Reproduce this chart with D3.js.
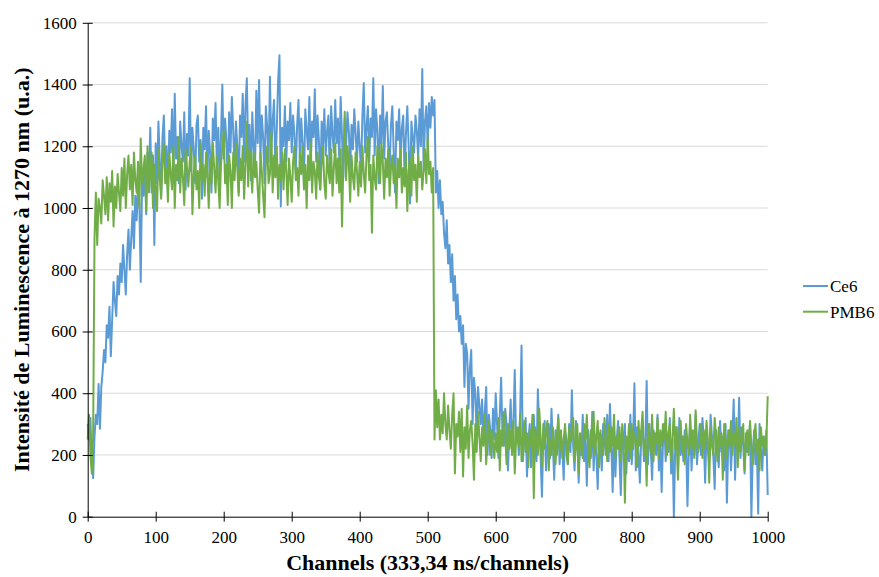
<!DOCTYPE html>
<html><head><meta charset="utf-8">
<script src="https://cdn.jsdelivr.net/npm/d3@7/dist/d3.min.js"></script>
<style>
html,body{margin:0;padding:0;background:#fff;}
svg{display:block;}
svg text{font-family:"Liberation Serif","Times New Roman",serif !important;fill:#000;}
</style></head>
<body>
<svg id="chart" width="879" height="577"></svg>
<script>
// Channel step between stored samples
const channelStep = 2;
const seriesNames = ["Ce6", "PMB6"];
const xTicks = [0,100,200,300,400,500,600,700,800,900,1000];
const yTicks = [0,200,400,600,800,1000,1200,1400,1600];

const ce6 = [
300,250,320,180,125,260,330,300,430,285,420,470,540,500,620,580,680,520,640,760,700,650,780,720,820,
760,880,800,720,850,930,800,900,990,870,1040,960,1080,1010,760,1100,1040,1150,980,1180,1100,1260,1050,1170,880,
1210,1080,1280,1150,1040,1230,1300,1120,1200,1050,1250,1180,1320,1100,1370,1160,1230,1080,1280,1200,1150,1310,1060,1240,1170,
1420,1120,1260,1190,1080,1270,1300,1150,1220,1030,1260,1190,1330,1100,1250,1180,1050,1290,1220,1340,1130,1260,1090,1230,1400,
1160,1290,1220,1080,1310,1180,1360,1250,1120,1280,1200,1050,1300,1230,1370,1150,1330,1420,1180,1270,1090,1310,1200,1120,1380,
1210,1415,1160,1300,1230,1080,1330,1260,1150,1425,1190,1280,1350,1120,1250,1410,1495,1005,1260,1200,1330,1150,1280,1220,1340,
1180,1300,1240,1120,1270,1350,1160,1290,1210,1080,1320,1250,1190,1360,1140,1280,1230,1385,1150,1300,1220,1060,1280,1200,1320,
1170,1250,1300,1100,1330,1240,1180,1350,1210,1290,1150,1360,1230,1100,1290,1200,1310,1250,1130,1270,1190,1320,1240,1150,1280,
1200,1120,1300,1405,1180,1260,1330,1150,1290,1230,1420,1170,1320,1250,1080,1300,1210,1395,1160,1280,1310,1200,1120,1270,1330,
1180,1050,1280,1220,1320,1150,1260,1300,1100,1240,1330,1200,1015,1280,1230,1180,1300,1250,1160,1320,1200,1450,1120,1280,1330,
1200,1340,1260,1360,1300,1350,1050,1120,1000,1090,980,1020,920,870,960,820,880,760,850,700,780,640,720,600,650,
560,620,420,560,530,350,480,540,300,450,400,260,420,360,300,380,250,340,420,200,330,280,190,350,250,
400,300,190,330,450,260,230,350,300,150,280,380,220,300,475,240,280,200,340,555,180,250,320,130,240,
300,160,260,330,210,180,413,280,200,65,260,310,150,230,300,190,350,240,120,280,200,330,170,260,220,
120,280,250,170,300,210,410,230,150,310,260,110,240,200,330,180,260,100,280,230,190,340,150,260,200,
90,270,230,150,300,250,200,330,180,365,240,80,280,130,250,310,190,70,260,220,300,140,250,180,330,
170,240,432,150,290,200,110,260,310,180,230,440,170,300,220,120,280,250,200,330,150,270,80,240,300,
180,260,210,320,140,250,0,230,290,140,320,200,260,180,280,240,35,220,300,150,260,200,330,170,240,
300,200,320,250,110,280,220,180,330,260,200,90,280,240,160,310,210,260,150,300,45,240,280,150,250,
380,120,260,210,385,190,290,230,140,270,210,250,300,0,200,280,170,240,10,300,220,150,260,200,280,
70
];

const pmb6 = [
250,330,200,140,260,900,1050,880,1030,1000,950,1090,1040,980,1100,960,1080,1020,1120,940,1070,1000,1110,1050,990,
1130,1040,1160,1000,1110,1170,1060,1140,1010,1180,1090,1050,1150,1000,1225,1080,1120,1170,990,1200,1050,1110,1180,1000,1140,
1060,990,1190,1100,1030,1150,1210,1080,1130,1020,1180,1110,1060,1200,1000,1140,1090,1230,1050,1160,1100,1010,1190,1130,1070,
1150,1200,980,1110,1170,1060,1120,1000,1210,1090,1140,1040,1180,1110,1000,1160,1080,1210,1130,1050,1170,1090,1000,1140,1200,
1250,1080,1140,1010,1170,1120,1000,1180,1090,1210,1130,1040,1160,1090,1200,1030,1140,1280,1070,1190,1120,1050,1180,1100,1150,
1060,985,1180,1120,1040,970,1150,1200,1080,1110,1245,1050,1170,1100,1200,1030,1140,1090,1180,1060,1190,1120,1010,1160,1100,
1020,1150,1200,1090,1130,1040,1180,1110,1200,1060,1140,1000,1170,1090,1210,1050,1150,1120,1030,1180,1100,1060,1150,1200,1080,
1030,1170,1120,1080,1190,1040,1130,1210,1080,1160,1050,1190,940,1150,1312,1090,1200,1140,1020,1170,1100,1060,1180,1120,1040,
1150,1070,1200,1110,1050,1170,1230,1090,1140,920,1170,1100,1060,1200,1130,1080,1210,1150,1030,1160,1100,1190,1040,1130,1170,
1080,1140,1000,1160,1100,1190,1050,1130,1070,1180,990,1120,1160,1040,1200,1090,1140,1020,1170,1100,1150,1060,1120,1190,1080,
1230,1110,1150,1050,1130,250,410,290,380,250,330,270,400,300,250,360,280,220,330,400,140,300,260,340,210,
350,130,290,220,360,190,280,310,240,120,300,210,340,260,180,290,230,330,170,260,310,200,280,240,190,
270,210,320,150,280,230,340,260,170,300,220,280,200,310,140,250,290,230,330,180,260,310,210,270,160,
280,230,330,60,290,240,200,350,260,160,300,220,270,310,150,250,200,290,230,170,260,320,210,280,190,
250,300,200,170,290,240,260,320,180,220,300,140,270,230,190,300,250,330,210,160,280,230,340,200,260,
310,160,280,240,200,320,250,180,300,210,290,230,330,190,260,220,290,180,300,250,45,260,210,300,190,
300,220,270,250,160,310,230,280,340,200,250,100,300,260,210,330,180,270,240,320,190,280,230,300,250,
340,200,270,300,180,250,350,220,290,120,270,310,210,260,170,300,240,200,330,220,280,190,345,240,210,
240,300,190,280,220,310,250,110,290,230,200,320,260,180,290,230,270,120,300,250,190,280,230,310,200,
270,230,320,160,290,210,260,300,150,240,280,200,310,230,170,260,300,210,250,150,290,230,260,200,240,
390
];

const seriesValues = [ce6, pmb6];
const seriesColors = ["#5B9BD5", "#70AD47"];

const svg = d3.select("#chart");
const mLeft = 87.7, mRight = 767.7, mTop = 22.8, mBottom = 516.7;

const x = d3.scaleLinear().domain([0,1000]).range([mLeft,mRight]);
const y = d3.scaleLinear().domain([0,1600]).range([mBottom,mTop]);

// gridlines
svg.append("g").selectAll("line").data(yTicks.filter(d=>d>0)).join("line")
  .attr("x1", mLeft).attr("x2", mRight)
  .attr("y1", d=>y(d)).attr("y2", d=>y(d))
  .attr("stroke", "#d9d9d9").attr("stroke-width", 1);

// lines
const line = d3.line().x((d,i)=>x(i*channelStep)).y(d=>y(d));
seriesValues.forEach((vals, k) => {
  svg.append("path").datum(vals)
    .attr("d", line)
    .attr("fill","none")
    .attr("stroke", seriesColors[k])
    .attr("stroke-width", 2)
    .attr("stroke-linejoin","round");
});

// axes
const fmt = d3.format("d");
const yAxis = d3.axisLeft(y).tickValues(yTicks).tickFormat(fmt).tickSizeInner(5).tickSizeOuter(0).tickPadding(6);
const gy = svg.append("g").attr("transform", `translate(${mLeft},0)`).call(yAxis);
gy.selectAll(".tick line").attr("x1", 5).attr("x2", -5);
const xAxis = d3.axisBottom(x).tickValues(xTicks).tickFormat(fmt).tickSizeInner(5).tickSizeOuter(0).tickPadding(9);
const gx = svg.append("g").attr("transform", `translate(0,${mBottom})`).call(xAxis);
gx.selectAll(".tick line").attr("y1", -5).attr("y2", 5);
[gx, gy].forEach(g => {
  g.attr("font-family", null).attr("font-size", null);
  g.select(".domain").attr("stroke","#000").attr("stroke-width",1);
  g.selectAll(".tick line").attr("stroke","#000");
  g.selectAll("text").style("font-size","17px");
});

// axis titles
svg.append("text").attr("x", (mLeft+mRight)/2).attr("y", 570)
  .attr("text-anchor","middle").attr("font-weight","bold").style("font-size","22px")
  .text("Channels (333,34 ns/channels)");
svg.append("text").attr("transform", `translate(29,${(mTop+mBottom)/2}) rotate(-90)`)
  .attr("text-anchor","middle").attr("font-weight","bold").style("font-size","22px")
  .text("Intensité de Luminescence à 1270 nm (u.a.)");

// legend
const lg = svg.append("g");
seriesNames.forEach((name,k) => {
  const yy = 286 + k*25.7;
  lg.append("line").attr("x1",803).attr("x2",828).attr("y1",yy).attr("y2",yy)
    .attr("stroke", seriesColors[k]).attr("stroke-width",2);
  lg.append("text").attr("x",830).attr("y",yy).attr("dy","0.35em")
    .style("font-size","17px").text(name);
});
</script>
</body></html>
